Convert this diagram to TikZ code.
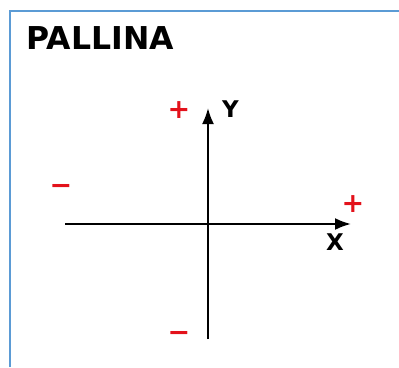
\documentclass[tikz,border=0pt]{standalone}
\usepackage{fontspec}
\setmainfont{DejaVu Sans}
\usetikzlibrary{arrows.meta}
\definecolor{frameblue}{HTML}{5B9BD5}
\definecolor{signred}{HTML}{E3121B}
\definecolor{ink}{HTML}{000000}

\begin{document}
\begin{tikzpicture}[
  x=1pt, y=-1pt,
  font=\bfseries,
  axis/.style={-{Latex[length=16pt,width=12pt]}, line width=2.2pt, draw=ink},
  frame/.style={line width=2.6pt, draw=frameblue},
  sign/.style={font=\bfseries\fontsize{27}{27}\selectfont, text=signred, inner sep=0pt},
  axislabel/.style={font=\bfseries\fontsize{23}{23}\selectfont, text=ink, inner sep=0pt, anchor=base}
]
\useasboundingbox (0,0) rectangle (399,367);

% open frame
\coordinate (fbl) at (10,367);
\coordinate (ftl) at (10,11);
\coordinate (ftr) at (399,11);
\draw[frame] (fbl) -- (ftl) -- (ftr);

\node[font=\bfseries\fontsize{31.5}{32}\selectfont, inner sep=0pt, anchor=base west] (title) at (26.5,49.5) {PALLINA};

% axes
\coordinate (xmin) at (65,224);
\coordinate (xmax) at (351,224);
\coordinate (ymin) at (208,339);
\coordinate (ymax) at (208,108);
\draw[axis] (xmin) -- (xmax);
\draw[axis] (ymin) -- (ymax);

\node[axislabel] (ylab) at (230.5,117) {Y};
\node[axislabel] (xlab) at (335,250.5) {X};

% signs
\node[sign] (yplus) at (179,110) {+};
\node[sign] (yminus) at (179,336) {−};
\node[sign] (xplus) at (353,204) {+};
\node[sign] (xminus) at (61,189) {−};

\end{tikzpicture}
\end{document}
